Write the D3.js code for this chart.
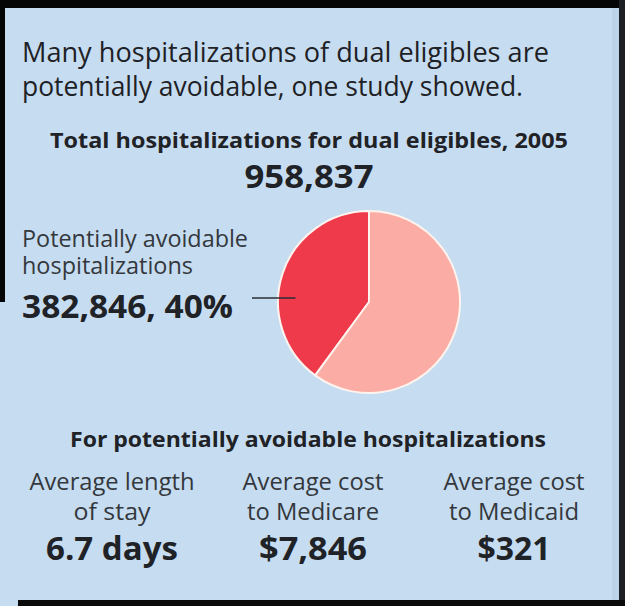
<!DOCTYPE html>
<html>
<head>
<meta charset="utf-8">
<script src="https://cdn.jsdelivr.net/npm/d3@7"></script>
<style>
  html, body { margin: 0; padding: 0; background: #c6ddf1; }
  svg { display: block; }
  text { font-family: "Open Sans", "DejaVu Sans", sans-serif; }
</style>
</head>
<body>
<svg id="chart" width="625" height="606"></svg>
<script>
// Hospitalizations of dual eligibles, 2005
const titleLines = ["Many hospitalizations of dual eligibles are", "potentially avoidable, one study showed."];
const totalLabel = "Total hospitalizations for dual eligibles, 2005";
const totalHospitalizations = 958837;
const avoidableLabelLines = ["Potentially avoidable", "hospitalizations"];
const avoidableHospitalizations = 382846;

// Pie slices: avoidable vs. the rest
const sliceNames = ["Potentially avoidable", "Other"];
const sliceValues = [avoidableHospitalizations, totalHospitalizations - avoidableHospitalizations];

// Figures for potentially avoidable hospitalizations
const statsHeading = "For potentially avoidable hospitalizations";
const statLabels = [["Average length", "of stay"], ["Average cost", "to Medicare"], ["Average cost", "to Medicaid"]];
const statValues = [6.7, 7846, 321];
const statFormats = [v => d3.format(".1f")(v) + " days", v => "$" + d3.format(",")(v), v => "$" + d3.format(",")(v)];

const W = 625, H = 606;
const svg = d3.select("#chart");

// background and frame
svg.append("rect").attr("width", W).attr("height", H).attr("fill", "#c6ddf1");
svg.append("rect").attr("x", 0).attr("y", 0).attr("width", W).attr("height", 8).attr("fill", "#050505");
svg.append("rect").attr("x", 0).attr("y", 0).attr("width", 5).attr("height", 302).attr("fill", "#050505");
svg.append("rect").attr("x", 619).attr("y", 0).attr("width", 6).attr("height", H).attr("fill", "#1c1f24");
svg.append("rect").attr("x", 612).attr("y", 8).attr("width", 7).attr("height", 592).attr("fill", "#bcd3e8");
svg.append("rect").attr("x", 18).attr("y", 600).attr("width", W - 18).attr("height", 6).attr("fill", "#0a0a0a");

function label(x, y, str, opts) {
  const t = svg.append("text")
    .attr("x", x).attr("y", y)
    .attr("font-size", opts.size)
    .attr("font-weight", opts.weight || 400)
    .attr("fill", opts.color || "#1f2226")
    .attr("text-anchor", opts.anchor || "start")
    .text(str);
  if (opts.width) t.attr("textLength", opts.width).attr("lengthAdjust", "spacingAndGlyphs");
  return t;
}

// headline
label(22, 62, titleLines[0], { size: 27, width: 527, color: "#1e2125" });
label(22, 96, titleLines[1], { size: 27, width: 501, color: "#1e2125" });

// total
label(309, 148, totalLabel, { size: 22, weight: 700, anchor: "middle", width: 518 });
label(309, 188, d3.format(",")(totalHospitalizations), { size: 33, weight: 700, anchor: "middle", width: 129 });

// pie
const cx = 369, cy = 302, r = 91;
const pie = d3.pie().sort(null).startAngle(-2 * Math.PI * sliceValues[0] / d3.sum(sliceValues)).endAngle(2 * Math.PI - 2 * Math.PI * sliceValues[0] / d3.sum(sliceValues));
const arc = d3.arc().innerRadius(0).outerRadius(r);
const color = d3.scaleOrdinal().domain(sliceNames).range(["#ee3a4b", "#fbaca4"]);
const g = svg.append("g").attr("transform", `translate(${cx},${cy})`);
g.selectAll("path")
  .data(pie(sliceValues))
  .join("path")
  .attr("d", arc)
  .attr("fill", (d, i) => color(sliceNames[i]))
  .attr("stroke", "#fff3ee")
  .attr("stroke-width", 2);

// avoidable label with leader line
label(22, 247, avoidableLabelLines[0], { size: 23, width: 226, color: "#34383d" });
label(22, 274, avoidableLabelLines[1], { size: 23, width: 171, color: "#34383d" });
const share = avoidableHospitalizations / totalHospitalizations;
label(22, 318, d3.format(",")(avoidableHospitalizations) + ", " + d3.format(".0%")(share), { size: 32, weight: 700, width: 211 });

const mid = pie(sliceValues)[0];
const midAngle = (mid.startAngle + mid.endAngle) / 2;
const ax = cx + Math.sin(midAngle) * r * 0.85;
svg.append("line")
  .attr("x1", 252).attr("x2", ax)
  .attr("y1", 298).attr("y2", 298)
  .attr("stroke", "#2a2d33").attr("stroke-width", 1.5);

// stats section
label(308, 447, statsHeading, { size: 22, weight: 700, anchor: "middle", width: 476 });

const colX = d3.scalePoint().domain(d3.range(statValues.length)).range([112, 514]);
const labelWidths = [[165, 77], [141, 132], [141, 130]];
const valueWidths = [132, 108, 73];
statValues.forEach((v, i) => {
  const x = colX(i);
  label(x, 490, statLabels[i][0], { size: 23, anchor: "middle", width: labelWidths[i][0], color: "#34383d" });
  label(x, 520, statLabels[i][1], { size: 23, anchor: "middle", width: labelWidths[i][1], color: "#34383d" });
  label(x, 560, statFormats[i](v), { size: 32, weight: 700, anchor: "middle", width: valueWidths[i] });
});
</script>
</body>
</html>
